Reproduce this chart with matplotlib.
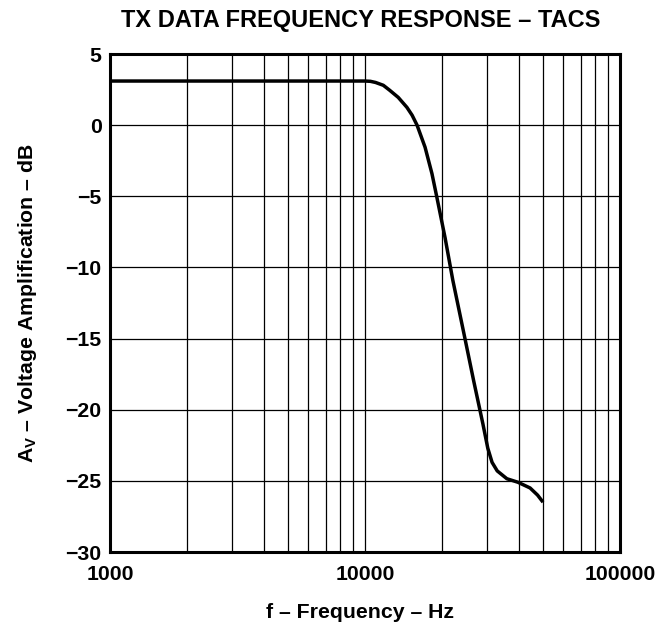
import numpy as np
import matplotlib
matplotlib.use("Agg")
import matplotlib.pyplot as plt

# Data
freq_hz = [1000, 2000, 5000, 9000, 10000, 10500, 11000, 11800, 12500, 13500, 14600,
           15300, 16000, 17200, 18300, 19100, 20600, 22100, 24400, 26700, 29000,
           30300, 31500, 33000, 36000, 39800, 44400, 47500, 49900]
gain_db = [3.1, 3.1, 3.1, 3.1, 3.1, 3.08, 3.0, 2.8, 2.45, 1.95, 1.25,
           0.7, 0.0, -1.55, -3.4, -5.0, -7.9, -10.9, -14.6, -18.0, -21.0,
           -22.7, -23.7, -24.3, -24.85, -25.1, -25.5, -26.0, -26.5]

y_ticks = [-30, -25, -20, -15, -10, -5, 0, 5]
x_ticks = [1000, 10000, 100000]
x_ticklabels = ["1000", "10000", "100000"]

title = "TX DATA FREQUENCY RESPONSE – TACS"
xlabel = "f – Frequency – Hz"
ylabel = r"$\mathbf{A_V}$ – Voltage Amplification – dB"

plt.rcParams['font.family'] = ['Liberation Sans', 'DejaVu Sans']
plt.rcParams['font.weight'] = 'bold'
plt.rcParams['mathtext.fontset'] = 'custom'
plt.rcParams['mathtext.rm'] = 'Liberation Sans:bold'
plt.rcParams['mathtext.bf'] = 'Liberation Sans:bold'
plt.rcParams['mathtext.it'] = 'Liberation Sans:bold'

fig = plt.figure(figsize=(6.72, 6.26), dpi=100)
ax = fig.add_axes([110/672, 1 - 552/626, (620-110)/672, (552-54)/626])

ax.set_xscale('log')
ax.set_xlim(1000, 100000)
ax.set_ylim(-30, 5)

# grid
minor = [m * d for d in (1000, 10000) for m in range(2, 10)]
for xv in minor + [10000]:
    ax.axvline(xv, color='black', lw=0.9, zorder=1)
for yv in y_ticks[1:-1]:
    ax.axhline(yv, color='black', lw=0.9, zorder=1)

ax.plot(freq_hz, gain_db, color='black', lw=2.5, zorder=3, solid_capstyle='butt')

ax.set_xticks(x_ticks)
ax.set_xticklabels(x_ticklabels)
ax.xaxis.set_minor_locator(matplotlib.ticker.NullLocator())
ax.set_yticks(y_ticks)
ax.set_yticklabels([str(v).replace('-', '\u2212') for v in y_ticks])
ax.tick_params(axis='both', length=0, labelsize=15.3)
ax.tick_params(axis='x', pad=9)
ax.tick_params(axis='y', pad=6)
for lab in ax.get_xticklabels() + ax.get_yticklabels():
    lab.set_fontweight('bold')

for s in ax.spines.values():
    s.set_linewidth(2.2)
    s.set_color('black')

fig.text(361/672, 1 - 20/626, title, ha='center', va='center', fontsize=17, fontweight='bold')
fig.text(360/672, 1 - 612/626, xlabel, ha='center', va='center', fontsize=15.3, fontweight='bold')
fig.text(28/672, 1 - 303/626, ylabel, ha='center', va='center', rotation=90, fontsize=15.3, fontweight='bold')

fig.savefig("out.png", dpi=100, facecolor='white')
